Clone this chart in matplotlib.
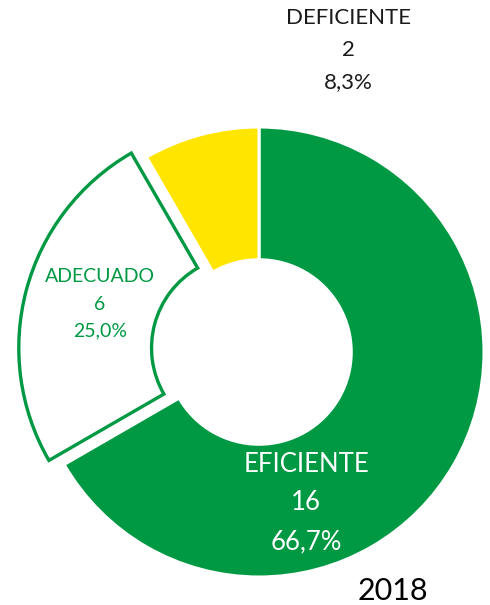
import matplotlib
matplotlib.use("Agg")
import matplotlib.pyplot as plt

categories = ["EFICIENTE", "ADECUADO", "DEFICIENTE"]
values = [16, 6, 2]
year_label = "2018"

GREEN = "#009943"
YELLOW = "#FFE500"

W, H = 490, 605
cx, cy, R = 259, 352, 225

fig = plt.figure(figsize=(W / 100, H / 100), dpi=100)
ax = fig.add_axes([0, 0, 1, 1])

wedges, _ = ax.pie(values, startangle=90, counterclock=False, radius=1,
                   explode=[0, 0.07, 0],
                   colors=[GREEN, "white", YELLOW],
                   wedgeprops=dict(width=0.59, linewidth=2.2, edgecolor="white"))
wedges[1].set_edgecolor(GREEN)
wedges[1].set_linewidth(2.4)
wedges[1].set_zorder(3)

ax.set_xlim(-cx / R, (W - cx) / R)
ax.set_ylim(-(H - cy) / R, cy / R)
ax.set_aspect("equal")
ax.axis("off")

total = sum(values)
def lab(i):
    pct = f"{values[i] / total * 100:.1f}".replace(".", ",")
    return f"{categories[i]}\n{values[i]}\n{pct}%"

font = "Lato"
def px(x, y):
    return x / W, 1 - y / H

# EFICIENTE label
fig.text(*px(306, 503), lab(0), ha="center", va="center", color="white",
         fontsize=18.5, family=font, linespacing=1.7)
# ADECUADO label
fig.text(*px(100, 304), lab(1), ha="center", va="center", color=GREEN,
         fontsize=14, family=font, linespacing=1.72)
# DEFICIENTE label
fig.text(*px(348, 50), lab(2), ha="center", va="center", color="#1a1a1a",
         fontsize=16, family=font, linespacing=1.75)
# Year
fig.text(*px(393, 591), year_label, ha="center", va="center", color="black",
         fontsize=22, family=font)

fig.savefig("out.png", dpi=100)
